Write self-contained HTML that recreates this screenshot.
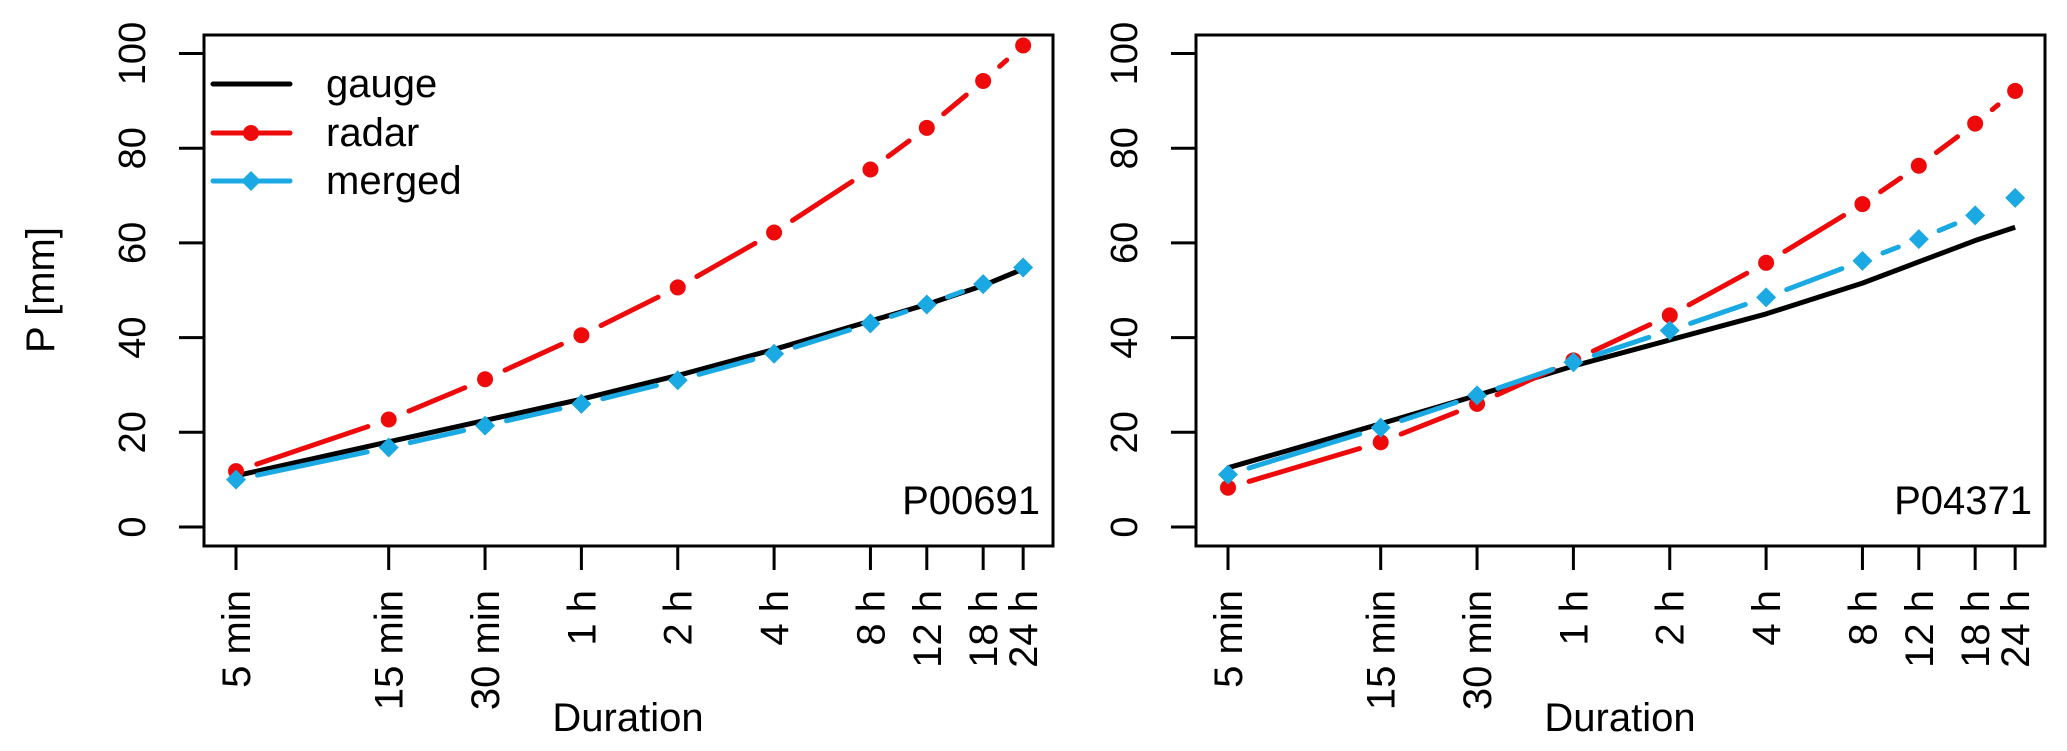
<!DOCTYPE html>
<html><head><meta charset="utf-8"><style>
html,body{margin:0;padding:0;background:#fff;}
svg{display:block;font-family:"Liberation Sans",Arial,sans-serif;}
</style></head><body>
<svg id="chart" width="2067" height="751" viewBox="0 0 2067 751" xmlns="http://www.w3.org/2000/svg">
<g id="root"></g>
</svg>
<script>
const durations=["5 min","15 min","30 min","1 h","2 h","4 h","8 h","12 h","18 h","24 h"];
const minutes=[5,15,30,60,120,240,480,720,1080,1440];
const yTicks=[0,20,40,60,80,100];
const gaugeL=[10.8,18,22.5,27,32,37.5,43.5,47,51,54.5];
const radarL=[11.8,22.7,31.2,40.5,50.6,62.2,75.5,84.3,94.2,101.7];
const mergedL=[10,16.8,21.4,26,31,36.6,43,47,51.3,54.8];
const gaugeR=[12.5,21.8,27.8,34,39.5,45,51.5,56,60.5,63.3];
const radarR=[8.3,17.9,26,35.2,44.7,55.8,68.2,76.3,85.2,92.1];
const mergedR=[11.1,21,27.8,34.8,41.5,48.5,56.2,60.8,65.8,69.5];
const panelNames=["P00691","P04371"];

const NS="http://www.w3.org/2000/svg";
const root=document.getElementById('root');
function el(tag,attrs,parent){const e=document.createElementNS(NS,tag);for(const k in attrs)e.setAttribute(k,attrs[k]);(parent||root).appendChild(e);return e;}
const RED="#ee0a0a",BLUE="#1aa9e2";
const yS=v=>527-v*4.735;

function panel(off,g,r,m,name,idx){
  const grp=el('g',{});
  
  
  const xS=t=>236+off+139*Math.log(t/5);
  const box=el('rect',{x:204+off,y:35,width:849,height:511,fill:'none',stroke:'#000','stroke-width':3},grp);
  
  
  // y axis
  yTicks.forEach(v=>{
    const l=el('line',{x1:179+off,x2:204+off,y1:yS(v),y2:yS(v),stroke:'#000','stroke-width':3},grp);
    
    
    const t=el('text',{x:0,y:0,transform:`translate(${145+off},${yS(v)}) rotate(-90)`,'text-anchor':'middle','font-size':38},grp);
    t.textContent=v;
    
    
  });
  // x axis
  minutes.forEach((mn,i)=>{
    const x=xS(mn);
    const l=el('line',{x1:x,x2:x,y1:546,y2:570,stroke:'#000','stroke-width':3},grp);
    
    
    const t=el('text',{x:0,y:0,transform:`translate(${x+14},590) rotate(-90)`,'text-anchor':'end','font-size':40},grp);
    t.textContent=durations[i];
    
    
  });
  const xt=el('text',{x:628+off,y:731,'text-anchor':'middle','font-size':40},grp);
  xt.textContent='Duration';
  
  
  const nm=el('text',{x:1040+off,y:514,'text-anchor':'end','font-size':40},grp);
  nm.textContent=name;
  
  
  // gauge line
  const gp=el('polyline',{points:minutes.map((mn,i)=>xS(mn)+','+yS(g[i])).join(' '),fill:'none',stroke:'#000','stroke-width':5,'stroke-linejoin':'round'},grp);
  
  
  // type b series
  function series(vals,color,shape,sname){
    const sg=el('g',{},grp);
    
    
    const gap=22;
    for(let i=0;i<vals.length-1;i++){
      const x1=xS(minutes[i]),y1=yS(vals[i]),x2=xS(minutes[i+1]),y2=yS(vals[i+1]);
      const L=Math.hypot(x2-x1,y2-y1);if(L<=2*gap+2)continue;
      const ux=(x2-x1)/L,uy=(y2-y1)/L;
      const s=el('line',{x1:x1+ux*gap,y1:y1+uy*gap,x2:x2-ux*gap,y2:y2-uy*gap,stroke:color,'stroke-width':5,'stroke-linecap':'round'},sg);
      
      
    }
    vals.forEach((v,i)=>{
      const x=xS(minutes[i]),y=yS(v);let p;
      if(shape==='circle')p=el('circle',{cx:x,cy:y,r:8,fill:color},sg);
      else p=el('polygon',{points:`${x},${y-10} ${x+10},${y} ${x},${y+10} ${x-10},${y}`,fill:color},sg);
      
      
    });
  }
  series(r,RED,'circle','radar');
  series(m,BLUE,'diamond','merged');
}
panel(0,gaugeL,radarL,mergedL,panelNames[0],0);
panel(992,gaugeR,radarR,mergedR,panelNames[1],1);

const yl=el('text',{x:0,y:0,transform:'translate(54,290) rotate(-90)','text-anchor':'middle','font-size':40});
yl.textContent='P [mm]';



// legend
const lg=el('g',{});


[["gauge","#000",null,84],["radar",RED,'circle',133],["merged",BLUE,'diamond',181]].forEach(([n,c,s,y])=>{
  const e=el('g',{},lg);
  
  
  el('line',{x1:213,x2:290,y1:y,y2:y,stroke:c,'stroke-width':5,'stroke-linecap':'round'},e);
  if(s==='circle')el('circle',{cx:251,cy:y,r:8,fill:c},e);
  if(s==='diamond')el('polygon',{points:`251,${y-10} 261,${y} 251,${y+10} 241,${y}`,fill:c},e);
  const t=el('text',{x:326,y:y+13,'font-size':40},e);
  t.textContent=n;
});
</script>
</body></html>
